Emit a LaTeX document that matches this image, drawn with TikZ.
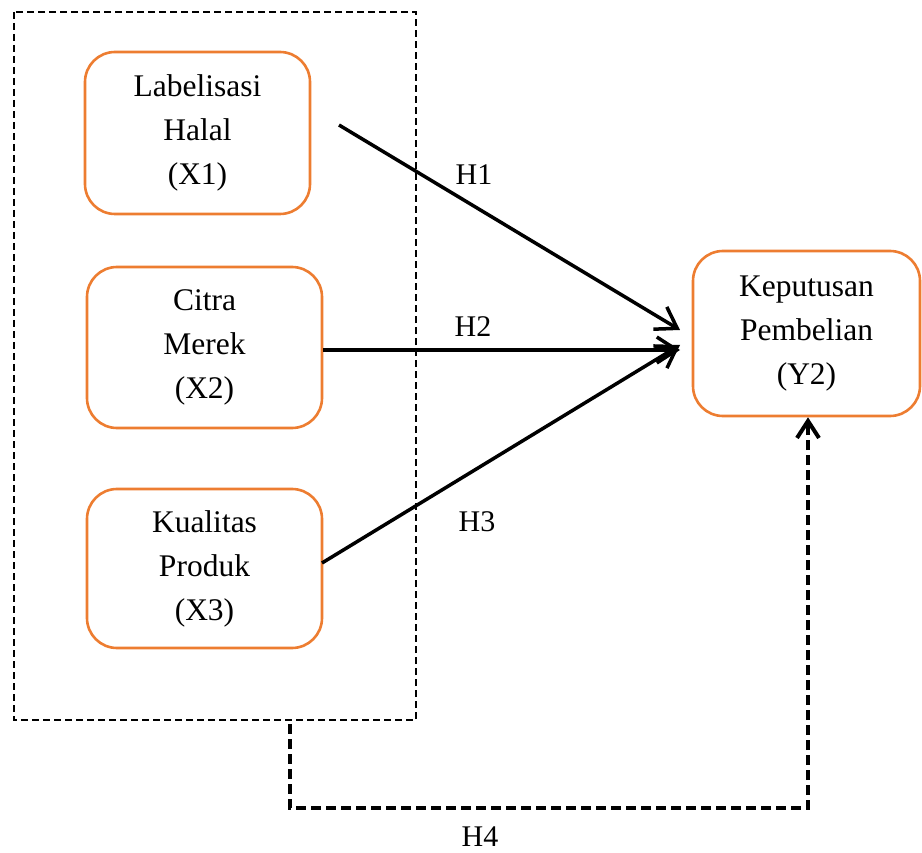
\documentclass[tikz,border=0pt]{standalone}
\usepackage{fontspec}
\setmainfont{Liberation Serif}
\usetikzlibrary{arrows.meta}
\definecolor{boxorange}{RGB}{237,125,49}
\begin{document}
\begin{tikzpicture}[x=1pt,y=-1pt,
  varbox/.style={draw=boxorange, line width=2.6pt, rounded corners=30pt, align=center,
    inner sep=0pt, font=\fontsize{31.5}{44}\selectfont},
  hlabel/.style={font=\fontsize{30}{36}\selectfont, inner sep=0pt},
  patharrow/.style={line width=3.5pt, -{Straight Barb[length=20pt,width=26pt,line width=3.5pt]}},
  groupbox/.style={line width=2pt, dash pattern=on 7pt off 4pt},
  mediate/.style={line width=4pt, dash pattern=on 10pt off 5pt, -{Straight Barb[length=17pt,width=22pt,line width=4pt]}}
]
\useasboundingbox (0,0) rectangle (922,853);
\draw[groupbox] (14,12) rectangle (416,720);
\node[varbox, minimum width=225pt, minimum height=162pt] (x1) at (197.5,133) {Labelisasi\\Halal\\ (X1)};
\node[varbox, minimum width=235pt, minimum height=161pt] (x2) at (204.5,347.5) {Citra\\Merek\\(X2)};
\node[varbox, minimum width=235pt, minimum height=159pt] (x3) at (204.5,568.5) {Kualitas\\Produk\\(X3)};
\node[varbox, minimum width=227pt, minimum height=165pt] (y2) at (806.5,333.5) {Keputusan\\Pembelian\\(Y2)};
\coordinate (s1) at (339,125);
\coordinate (t1) at (680,330);
\coordinate (t2) at (680,350);
\coordinate (t3) at (680,345);
\coordinate (s4) at (290,724);
\coordinate (c4) at (290,808);
\coordinate (d4) at (808,808);
\draw[patharrow] (s1) -- (t1);
\draw[patharrow] (x2.east |- t2) -- (t2);
\draw[patharrow] (322,563) -- (t3);
\draw[mediate] (s4) -- (c4) -- (d4) -- (y2.south -| d4);
\node[hlabel] (h1) at (474,175) {H1};
\node[hlabel] (h2) at (473,327) {H2};
\node[hlabel] (h3) at (477,522) {H3};
\node[hlabel] (h4) at (480,837) {H4};
\end{tikzpicture}
\end{document}
